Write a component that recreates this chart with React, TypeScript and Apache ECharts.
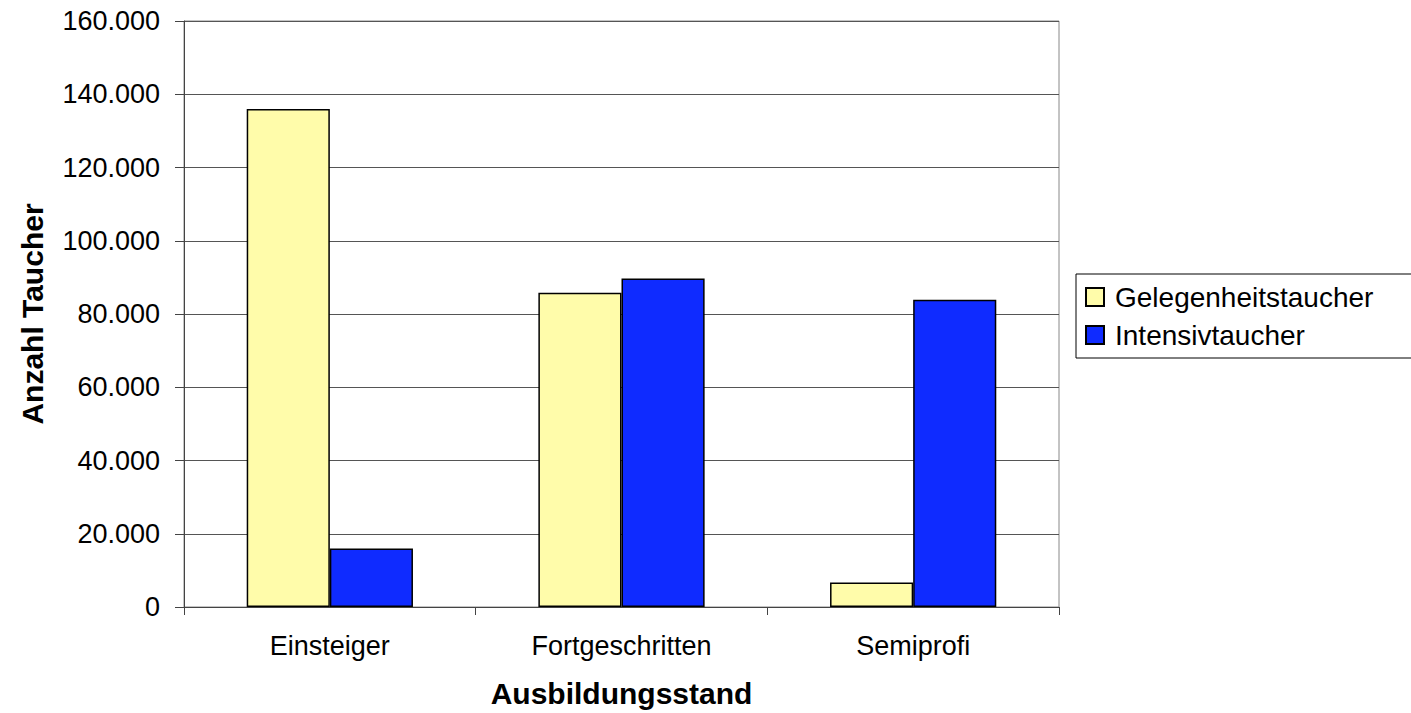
import React, { useEffect, useRef } from "react";
import * as echarts from "echarts";

const categories = ["Einsteiger", "Fortgeschritten", "Semiprofi"];
const seriesNames = ["Gelegenheitstaucher", "Intensivtaucher"];
const gelegenheit = [136000, 85800, 6700];
const intensiv = [16000, 89700, 83900];
const seriesColors = ["#FFFCAA", "#0F2BFF"];

const FONT = "'Liberation Sans', Arial, sans-serif";

function fmt(v: number): string {
  return String(v).replace(/\B(?=(\d{3})+(?!\d))/g, ".");
}

export default function App() {
  const ref = useRef<HTMLDivElement>(null);
  useEffect(() => {
    if (!ref.current) return;
    const chart = echarts.init(ref.current, null, { renderer: "svg" });
    chart.setOption({
      animation: false,
      backgroundColor: "#fff",
      textStyle: { fontFamily: FONT },
      grid: {
        left: 184,
        top: 21,
        width: 875,
        height: 591,
        show: true,
        borderColor: "#888",
        borderWidth: 1,
        backgroundColor: "transparent",
      },
      legend: {
        orient: "vertical",
        left: 1076,
        top: 274,
        itemWidth: 18,
        itemHeight: 18,
        itemGap: 10,
        padding: [9, 40, 9, 9],
        borderColor: "#000",
        borderWidth: 1,
        backgroundColor: "#fff",
        icon: "rect",
        textStyle: { fontSize: 28, color: "#000", fontFamily: FONT, padding: [0, 0, 0, 6] },
        data: seriesNames,
      },
      xAxis: {
        type: "category",
        data: categories,
        name: "Ausbildungsstand",
        nameLocation: "middle",
        nameGap: 71,
        nameTextStyle: { fontSize: 30, fontWeight: "bold", color: "#000", fontFamily: FONT },
        axisLine: { show: true, lineStyle: { color: "#444", width: 1 } },
        axisTick: { show: true, length: 8, interval: 0, lineStyle: { color: "#444" } },
        axisLabel: { fontSize: 27, color: "#000", margin: 25, fontFamily: FONT },
        splitLine: { show: false },
      },
      yAxis: {
        type: "value",
        min: 0,
        max: 160000,
        interval: 20000,
        name: "Anzahl Taucher",
        nameLocation: "middle",
        nameGap: 137,
        nameTextStyle: { fontSize: 30, fontWeight: "bold", color: "#000", fontFamily: FONT },
        axisLine: { show: true, lineStyle: { color: "#444", width: 1 } },
        axisTick: { show: true, length: 9, lineStyle: { color: "#444" } },
        axisLabel: { fontSize: 27, color: "#000", margin: 24, formatter: (v: number) => fmt(v), fontFamily: FONT },
        splitLine: { show: true, lineStyle: { color: "#555", width: 1 } },
      },
      series: [
        {
          name: seriesNames[0],
          type: "bar",
          data: gelegenheit,
          barGap: "0%",
          barCategoryGap: "43%",
          itemStyle: { color: seriesColors[0], borderColor: "#000", borderWidth: 1.5 },
        },
        {
          name: seriesNames[1],
          type: "bar",
          data: intensiv,
          barGap: "0%",
          barCategoryGap: "43%",
          itemStyle: { color: seriesColors[1], borderColor: "#000", borderWidth: 1.5 },
        },
      ],
    });
    return () => chart.dispose();
  }, []);
  return (
    <div
      ref={ref}
      style={{ position: "fixed", left: 0, top: 0, width: 1411, height: 713 }}
    />
  );
}
